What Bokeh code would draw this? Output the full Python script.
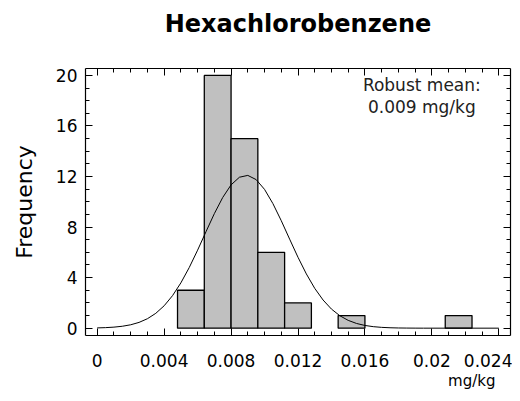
from bokeh.plotting import figure
from bokeh.models import (Range1d, LinearAxis, SingleIntervalTicker, Label, Title,
                          CustomJSTickFormatter, NumeralTickFormatter, ColumnDataSource)
from bokeh.embed import file_html
from bokeh.resources import INLINE

# ---- data ----
bin_left = [0.0048, 0.0064, 0.0080, 0.0096, 0.0112, 0.0128, 0.0144, 0.0160, 0.0176, 0.0192, 0.0208]
bin_right = [0.0064, 0.0080, 0.0096, 0.0112, 0.0128, 0.0144, 0.0160, 0.0176, 0.0192, 0.0208, 0.0224]
counts = [3, 20, 15, 6, 2, 0, 1, 0, 0, 0, 1]

curve_x = [0.0, 0.0005, 0.001, 0.0015, 0.002, 0.0025, 0.003, 0.0035, 0.004, 0.0045,
           0.005, 0.0055, 0.006, 0.0065, 0.007, 0.0075, 0.008, 0.0085, 0.009, 0.0095,
           0.010, 0.0105, 0.011, 0.0115, 0.012, 0.0125, 0.013, 0.0135, 0.014, 0.0145,
           0.015, 0.0155, 0.016, 0.0165, 0.017, 0.0175, 0.018, 0.0185, 0.019, 0.0195,
           0.024]
curve_y = [0.021, 0.043, 0.082, 0.151, 0.268, 0.457, 0.747, 1.174, 1.772, 2.571,
           3.584, 4.799, 6.173, 7.631, 9.063, 10.342, 11.341, 11.946, 12.090, 11.756,
           10.983, 9.859, 8.503, 7.046, 5.610, 4.291, 3.153, 2.226, 1.510, 0.985,
           0.617, 0.371, 0.215, 0.119, 0.064, 0.033, 0.016, 0.008, 0.003, 0.001,
           0.0]

title_text = "Hexachlorobenzene"
x_label = "mg/kg"
y_label = "Frequency"
note_lines = ["Robust mean:", "0.009 mg/kg"]

FONT = "DejaVu Sans"

bars = ColumnDataSource(dict(
    left=[l for l, c in zip(bin_left, counts) if c > 0],
    right=[r for r, c in zip(bin_right, counts) if c > 0],
    top=[c for c in counts if c > 0],
))

p = figure(width=512, height=393, output_backend="svg", toolbar_location=None,
           x_range=Range1d(-0.0007, 0.0247), y_range=Range1d(-0.58, 20.55),
           min_border_left=85, min_border_right=2, min_border_top=68, min_border_bottom=58)
p.outline_line_color = None
p.xgrid.visible = False
p.ygrid.visible = False
p.background_fill_color = "white"
p.border_fill_color = "white"

p.quad(left="left", right="right", bottom=0, top="top", source=bars,
       fill_color="#c0c0c0", line_color="black", line_width=1.3)
p.line(curve_x, curve_y, line_color="black", line_width=1)


def style(ax):
    ax.major_tick_in = 7
    ax.major_tick_out = 0
    ax.minor_tick_in = 4
    ax.minor_tick_out = 0
    ax.axis_line_color = "black"
    ax.axis_line_width = 1.2
    ax.major_tick_line_color = "black"
    ax.minor_tick_line_color = "black"
    ax.major_label_text_font = FONT
    ax.major_label_text_font_size = "17px"
    ax.major_label_text_color = "black"
    ax.axis_label_text_font = FONT
    ax.axis_label_text_font_style = "normal"
    ax.axis_label_text_color = "black"


xa = p.xaxis[0]
xa.ticker = SingleIntervalTicker(interval=0.004, num_minor_ticks=4)
xa.formatter = NumeralTickFormatter(format="0.[000]")
style(xa)
xa.major_label_standoff = 18

ya = p.yaxis[0]
ya.ticker = SingleIntervalTicker(interval=4, num_minor_ticks=4)
style(ya)
ya.major_label_standoff = 8
ya.axis_label = y_label
ya.axis_label_text_font_size = "22px"
ya.axis_label_standoff = 16

blank = CustomJSTickFormatter(code="return ''")

# top axis: tick marks only, carries the chart title as its label
top_ax = LinearAxis(ticker=SingleIntervalTicker(interval=0.004, num_minor_ticks=4), formatter=blank)
style(top_ax)
top_ax.major_label_standoff = 0
top_ax.major_label_text_font_size = "1px"
top_ax.axis_label = title_text
top_ax.axis_label_text_font_size = "24px"
top_ax.axis_label_text_font_style = "bold"
top_ax.axis_label_standoff = 31
p.add_layout(top_ax, "above")

right_ax = LinearAxis(ticker=SingleIntervalTicker(interval=4, num_minor_ticks=4), formatter=blank)
style(right_ax)
right_ax.major_label_standoff = 0
right_ax.major_label_text_font_size = "1px"
p.add_layout(right_ax, "right")

# unit label at the lower right
unit = Title(text=x_label, align="right", vertical_align="bottom", text_font=FONT,
             text_font_size="15px", text_font_style="normal", text_color="black",
             offset=15, standoff=0)
p.add_layout(unit, "below")

for txt, yv in zip(note_lines, [19.26, 17.52]):
    p.add_layout(Label(x=0.0194, y=yv, text=txt, text_align="center", text_baseline="middle",
                       text_font=FONT, text_font_size="17px", text_color="#222222"))

open("out.html", "w").write(file_html(p, INLINE))
